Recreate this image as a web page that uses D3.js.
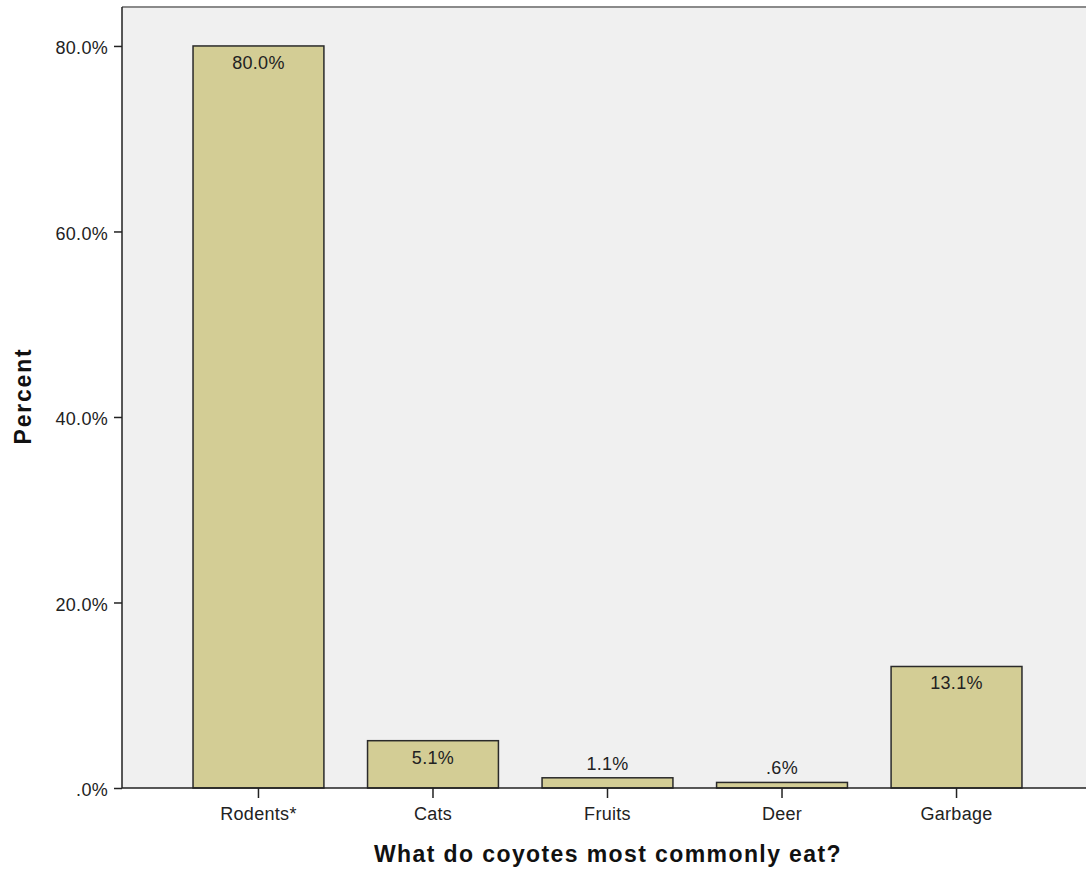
<!DOCTYPE html>
<html><head><meta charset="utf-8">
<script src="https://cdn.jsdelivr.net/npm/d3@7"></script>
<style>body{margin:0;background:#fff}svg{display:block}</style>
</head><body>
<svg id="chart" width="1086" height="871"></svg>
<script>
const categories = ["Rodents*", "Cats", "Fruits", "Deer", "Garbage"];
const values = [80.0, 5.1, 1.1, 0.6, 13.1];
const valueLabels = ["80.0%", "5.1%", "1.1%", ".6%", "13.1%"];
const yTicks = [0, 20, 40, 60, 80];
const yTickLabels = [".0%", "20.0%", "40.0%", "60.0%", "80.0%"];

(function () {
const svg = d3.select("#chart");
const pLeft = 122, pRight = 1093, pTop = 7, pBottom = 788;
const y = d3.scaleLinear().domain([0, 84.2]).range([pBottom, pTop]);
const x = d3.scaleBand().domain(categories).range([pLeft, pRight]).paddingInner(0.25).paddingOuter(0.407);
const font = "Liberation Sans, Arial, sans-serif";

svg.append("rect").attr("x", pLeft).attr("y", pTop).attr("width", pRight - pLeft).attr("height", pBottom - pTop).attr("fill", "#f0f0f0");
svg.append("line").attr("x1", pLeft).attr("x2", 1086).attr("y1", pTop).attr("y2", pTop).attr("stroke", "#8a8a8a").attr("stroke-width", 2);

svg.selectAll("rect.bar").data(values).join("rect").attr("class", "bar")
  .attr("x", (d, i) => x(categories[i]))
  .attr("y", d => y(d))
  .attr("width", x.bandwidth())
  .attr("height", d => pBottom - y(d))
  .attr("fill", "#d3cd95").attr("stroke", "#2a2a2a").attr("stroke-width", 1.5);

svg.selectAll("text.vl").data(values).join("text").attr("class", "vl")
  .attr("x", (d, i) => x(categories[i]) + x.bandwidth() / 2)
  .attr("y", d => (pBottom - y(d) > 25) ? y(d) + 23 : y(d) - 8)
  .attr("text-anchor", "middle")
  .attr("font-family", font).attr("font-size", 18).attr("letter-spacing", 0.3).attr("fill", "#222")
  .text((d, i) => valueLabels[i]);

const yAxis = svg.append("g").attr("transform", `translate(${pLeft},0)`)
  .call(d3.axisLeft(y).tickValues(yTicks).tickFormat((d, i) => yTickLabels[i]).tickSize(8).tickPadding(6));
yAxis.select(".domain").attr("d", `M0,${pTop}V${pBottom}`).attr("stroke", "#222").attr("stroke-width", 1.5);
yAxis.selectAll(".tick line").attr("stroke", "#222").attr("stroke-width", 1.5);
yAxis.selectAll("text").attr("font-family", font).attr("font-size", 18).attr("letter-spacing", 0.3).attr("fill", "#222").attr("y", 2);

const xAxis = svg.append("g").attr("transform", `translate(0,${pBottom})`)
  .call(d3.axisBottom(x).tickSize(10).tickPadding(9));
xAxis.select(".domain").attr("d", `M${pLeft},0H1086`).attr("stroke", "#222").attr("stroke-width", 1.5);
xAxis.selectAll(".tick line").attr("stroke", "#222").attr("stroke-width", 1.5);
xAxis.selectAll("text").attr("font-family", font).attr("font-size", 18).attr("letter-spacing", 0.3).attr("fill", "#222");

svg.append("text").attr("x", 608).attr("y", 862).attr("text-anchor", "middle")
  .attr("font-family", font).attr("font-size", 23).attr("font-weight", "bold").attr("letter-spacing", 1.4).attr("fill", "#111")
  .text("What do coyotes most commonly eat?");
svg.append("text").attr("transform", "translate(31,396) rotate(-90)").attr("text-anchor", "middle")
  .attr("font-family", font).attr("font-size", 23).attr("font-weight", "bold").attr("letter-spacing", 1.8).attr("fill", "#111")
  .text("Percent");
})();
</script>
</body></html>
